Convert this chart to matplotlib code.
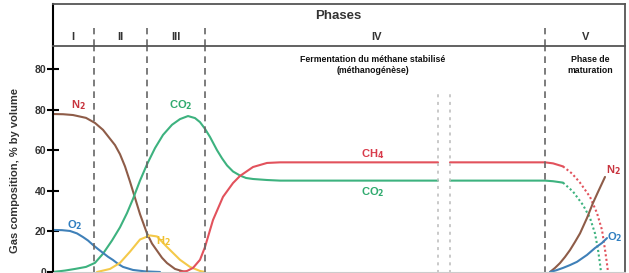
import numpy as np
import matplotlib.pyplot as plt

plt.rcParams['font.family'] = ['Liberation Sans', 'DejaVu Sans']

# time axis in arbitrary units (0 = start of phase I)
# phase I - III + start of IV
n2_t = [0, 10, 20, 33, 42, 50, 58, 62, 67, 72, 77, 82, 87, 94, 99, 104, 109, 114, 122, 132]
n2_v = [77.8, 77.7, 77.3, 75.9, 73.4, 70, 65, 62.5, 58, 52, 44.5, 36.5, 28.5, 19, 14, 10.5, 7, 4.4, 1.5, 0]

co2_t = [0, 12, 22, 33, 42, 50, 59, 67, 74, 80, 87, 94, 102, 110, 119, 127, 135, 142,
         147, 152, 157, 164, 169, 174, 180, 187, 193, 200, 214, 227, 385]
co2_v = [0, 0.7, 1.5, 2.5, 4.5, 9, 15.5, 22, 29, 36, 45, 53, 61, 67.5, 72.5, 75.3, 76.8, 75.8,
         73.8, 70.5, 66.5, 60, 56, 52.5, 49.5, 47.5, 46.3, 45.8, 45.3, 45, 45]

o2_t = [0, 9, 17, 24, 30, 35, 40, 45, 50, 55, 60, 65, 70, 80, 92, 107]
o2_v = [20.7, 20.6, 20.2, 19, 17.2, 15.5, 13.3, 11.3, 9.4, 7.5, 5.9, 4, 2.5, 1, 0.3, 0]

h2_t = [44, 57, 67, 77, 87, 97, 104, 114, 127, 137, 147, 152]
h2_v = [0, 1.5, 4.5, 10, 16, 18, 17.5, 12.3, 6, 2.5, 0.5, 0]

ch4_t = [127, 134, 140, 147, 152, 160, 170, 180, 187, 200, 214, 227, 385]
ch4_v = [0, 0.5, 2, 6, 12.3, 25.6, 37, 43.8, 47.3, 51.7, 53.7, 54, 54]

# after the time break (phase IV end + phase V)
ch4_t2 = [397, 492, 500, 510]
ch4_v2 = [54, 54, 53.5, 52]
ch4_dot_t = [510, 519, 527, 537, 544, 549, 552, 554, 555]
ch4_dot_v = [52, 48.5, 44, 37, 29, 20.7, 11, 4, 0]

co2_t2 = [397, 492, 500, 510]
co2_v2 = [45, 45, 44.7, 44]
co2_dot_t = [510, 520, 530, 537, 542, 545, 547, 548]
co2_dot_v = [44, 39.6, 33, 26.6, 19, 11, 4, 0]

n2_t2 = [497, 502, 507, 512, 517, 522, 527, 534, 540, 545, 552]
n2_v2 = [0, 2, 4.4, 7.4, 10.8, 14.8, 19, 26.6, 34, 39.4, 46.8]

o2_t2 = [497, 503, 510, 517, 524, 534, 542, 549, 554]
o2_v2 = [0, 0.8, 2, 3.4, 5, 8.4, 11.8, 14.3, 16.7]

phase_bounds = [41, 94, 152, 492]
break_t = [385, 397]
phase_names = ['I', 'II', 'III', 'IV', 'V']
phase_centers = [20, 67, 123, 323, 533]
ytick_pos = [0, 20, 40, 60, 80, 100]
ytick_lab = ['0', '20', '40', '60', '80', '80']

c_n2 = '#8e5c48'
c_co2 = '#3db27f'
c_o2 = '#3f80b8'
c_h2 = '#f4c94a'
c_ch4 = '#e2525c'
c_grid = '#666666'

W, H = 629, 273
fig = plt.figure(figsize=(W / 100, H / 100), dpi=100)
left, right, top_box, top_plot = 53, 625, 4, 46
ax = fig.add_axes([left / W, 0, (right - left) / W, (H - top_plot) / H])
axh = fig.add_axes([left / W, (H - top_plot) / H, (right - left) / W, (top_plot - top_box) / H])

xlim = (0, right - left)
ax.set_xlim(xlim)
ax.set_ylim(-0.5, 111.3)
axh.set_xlim(xlim)
axh.set_ylim(0, 1)

lw = 1.5
kw = dict(lw=lw, solid_joinstyle='round', solid_capstyle='round')
ax.plot(n2_t, n2_v, color=c_n2, **kw)
ax.plot(co2_t, co2_v, color=c_co2, **kw)
ax.plot(o2_t, o2_v, color=c_o2, **kw)
ax.plot(h2_t, h2_v, color=c_h2, **kw)
ax.plot(ch4_t, ch4_v, color=c_ch4, **kw)
ax.plot(ch4_t2, ch4_v2, color=c_ch4, **kw)
ax.plot(co2_t2, co2_v2, color=c_co2, **kw)
ax.plot(ch4_dot_t, ch4_dot_v, color=c_ch4, lw=lw, ls=(0, (1, 1.2)))
ax.plot(co2_dot_t, co2_dot_v, color=c_co2, lw=lw, ls=(0, (1, 1.2)))
ax.plot(n2_t2, n2_v2, color=c_n2, **kw)
ax.plot(o2_t2, o2_v2, color=c_o2, **kw)

# phase separators
for b in phase_bounds:
    ax.axvline(b, color=c_grid, lw=1.2, ls=(0, (4, 3)))
    axh.plot([b, b], [0, 0.43], color=c_grid, lw=1.2, ls=(0, (4, 3)))
for b in break_t:
    ax.plot([b, b], [-0.5, 89.7], color='#bbbbbb', lw=1.1, ls=(0, (2, 3)))

# curve labels
lab = dict(fontsize=8, fontweight='bold', ha='center', va='center')
ax.text(25, 82, 'N$_\\mathbf{2}$', color='#c8343e', **lab)
ax.text(128, 82, 'CO$_\\mathbf{2}$', color='#2faa6e', **lab)
ax.text(22, 23, 'O$_\\mathbf{2}$', color='#2f7ec0', **lab)
ax.text(110, 15, 'H$_\\mathbf{2}$', color='#f0c030', **lab)
ax.text(320, 58, 'CH$_\\mathbf{4}$', color='#d83a4a', **lab)
ax.text(320, 39.5, 'CO$_\\mathbf{2}$', color='#2faa6e', **lab)
ax.text(560, 50, 'N$_\\mathbf{2}$', color='#c8343e', **lab)
ax.text(562, 17, 'O$_\\mathbf{2}$', color='#2f7ec0', **lab)

ax.text(320, 102, 'Fermentation du méthane stabilisé\n(méthanogénèse)', fontsize=6.3,
        fontweight='bold', ha='center', va='center', color='#111111', linespacing=1.2)
ax.text(537, 102, 'Phase de\nmaturation', fontsize=6.3, fontweight='bold',
        ha='center', va='center', color='#111111', linespacing=1.3)

# header
axh.text(285, 0.72, 'Phases', fontsize=9.5, fontweight='bold', ha='center', va='center', color='#333333')
for name, c in zip(phase_names, phase_centers):
    axh.text(c, 0.21, name, fontsize=8, fontweight='bold', ha='center', va='center', color='#333333')
axh.set_xticks([])
axh.set_yticks([])
for s in ['top', 'right', 'bottom']:
    axh.spines[s].set_color('#555555')
    axh.spines[s].set_linewidth(1.3)
axh.spines['left'].set_color('black')
axh.spines['left'].set_linewidth(1.5)

# main axes frame
ax.spines['top'].set_visible(False)
ax.spines['right'].set_color('#555555')
ax.spines['right'].set_linewidth(1.3)
ax.spines['left'].set_color('black')
ax.spines['left'].set_linewidth(1.5)
ax.spines['bottom'].set_position(('data', 0))
ax.spines['bottom'].set_color('#cccccc')
ax.set_xticks([])
ax.set_yticks(ytick_pos)
ax.set_yticklabels(ytick_lab, fontsize=7.5, fontweight='bold', color='#333333')
ax.tick_params(axis='y', direction='inout', length=8, width=1.5, pad=1)
ax.set_ylabel('Gas composition, % by volume', fontsize=8, fontweight='bold', color='#333333', labelpad=3)
ax.yaxis.set_label_coords(-0.058, 0.45)

fig.savefig('out.png', dpi=100)
